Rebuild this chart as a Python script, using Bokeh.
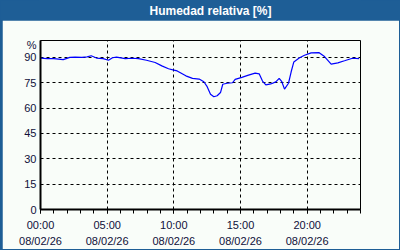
from bokeh.plotting import figure
from bokeh.layouts import column
from bokeh.models import FixedTicker, ColumnDataSource, Range1d
from bokeh.core.properties import value
from bokeh.embed import file_html
from bokeh.resources import INLINE

title_text = "Humedad relativa [%]"
hours = [0, 0.5, 1.0, 1.35, 1.7, 2.2, 2.6, 3.1, 3.5, 3.8, 4.2, 4.7, 5.1, 5.4, 5.7,
         6.35, 6.9, 7.35, 7.95, 8.6, 9.1, 9.6, 10.0, 10.25, 10.9, 11.4, 11.9, 12.25,
         12.5, 12.75, 13.0, 13.25, 13.5, 13.67, 14.0, 14.4, 14.6, 15.1, 15.6, 16.1,
         16.4, 16.65, 16.9, 17.27, 17.65, 17.9, 18.1, 18.3, 18.6, 18.8, 19.0, 19.4,
         19.8, 20.3, 20.9, 21.3, 21.8, 22.3, 22.8, 23.4, 23.9]
humidity = [89.6, 89.3, 89.3, 89.0, 88.7, 90.0, 90.2, 90.0, 90.3, 91.0, 89.6, 89.3,
            88.3, 89.8, 90.2, 89.3, 89.5, 89.3, 88.3, 87.0, 85.0, 83.3, 82.5, 82.0,
            79.1, 77.6, 77.2, 75.6, 72.7, 68.2, 66.7, 67.3, 69.2, 74.1, 74.7, 75.0,
            77.0, 78.2, 79.5, 80.7, 80.3, 76.0, 73.7, 74.3, 75.5, 77.6, 75.6, 71.2,
            74.7, 81.5, 87.3, 89.6, 91.3, 92.7, 92.8, 90.5, 86.0, 86.8, 88.0, 89.5, 89.3]
x_ticks = [0, 5, 10, 15, 20]
x_tick_labels = ["00:00\n08/02/26", "05:00\n08/02/26", "10:00\n08/02/26",
                 "15:00\n08/02/26", "20:00\n08/02/26"]
y_ticks = [0, 15, 30, 45, 60, 75, 90]
y_unit = "%"

BLUE = "#1E5E96"
BG = "#F9FDF9"
FONT = "Liberation Sans"

# Title bar
top = figure(width=400, height=20, toolbar_location=None, output_backend="svg",
             x_range=Range1d(0, 400), y_range=Range1d(0, 20), min_border=0,
             background_fill_color=BLUE, border_fill_color=BLUE, outline_line_color=None)
top.axis.visible = False
top.grid.visible = False
top.text(x=[213], y=[10], text=[title_text], text_color="white",
         text_font=value(FONT), text_font_style="bold", text_font_size="12px",
         text_align="center", text_baseline="middle")

# Main chart
p = figure(width=397, height=229, toolbar_location=None, output_backend="svg",
           x_range=Range1d(0, 24), y_range=Range1d(0, 100),
           min_border_left=38, min_border_right=39, min_border_top=20, min_border_bottom=38,
           background_fill_color=BG, border_fill_color=BG,
           outline_line_color="black", outline_line_width=1, margin=(0, 1, 1, 2))
p.styles = {"background-color": BLUE}

src = ColumnDataSource(dict(h=hours, rh=humidity))
p.line("h", "rh", source=src, line_color="#0000FF", line_width=1.2)

xa = p.xaxis[0]
xa.ticker = FixedTicker(ticks=x_ticks, minor_ticks=list(range(0, 25)))
xa.major_label_overrides = {t: l for t, l in zip(x_ticks, x_tick_labels)}
xa.major_tick_in = 0
xa.major_tick_out = 4
xa.minor_tick_in = 0
xa.minor_tick_out = 4
xa.axis_line_width = 2
xa.major_label_standoff = 5
xa.major_label_text_font = FONT
xa.major_label_text_font_size = "11px"
xa.major_label_text_line_height = 1.35
xa.major_label_text_color = "#10103A"

ya = p.yaxis[0]
ya.ticker = FixedTicker(ticks=y_ticks + [97.2], minor_ticks=[])
ya.major_label_overrides = {97.2: y_unit}
ya.major_tick_in = 0
ya.major_tick_out = 0
ya.axis_line_width = 2
ya.major_label_standoff = 4
ya.major_label_text_font = FONT
ya.major_label_text_font_size = "11px"
ya.major_label_text_color = "#10103A"

p.xgrid.ticker = FixedTicker(ticks=x_ticks)
p.ygrid.ticker = FixedTicker(ticks=y_ticks[1:])
p.grid.grid_line_color = "black"
p.grid.grid_line_dash = "3 3"
p.grid.grid_line_width = 1

layout = column(top, p, spacing=0, styles={"background-color": BLUE})

open("out.html", "w").write(file_html(layout, INLINE))
